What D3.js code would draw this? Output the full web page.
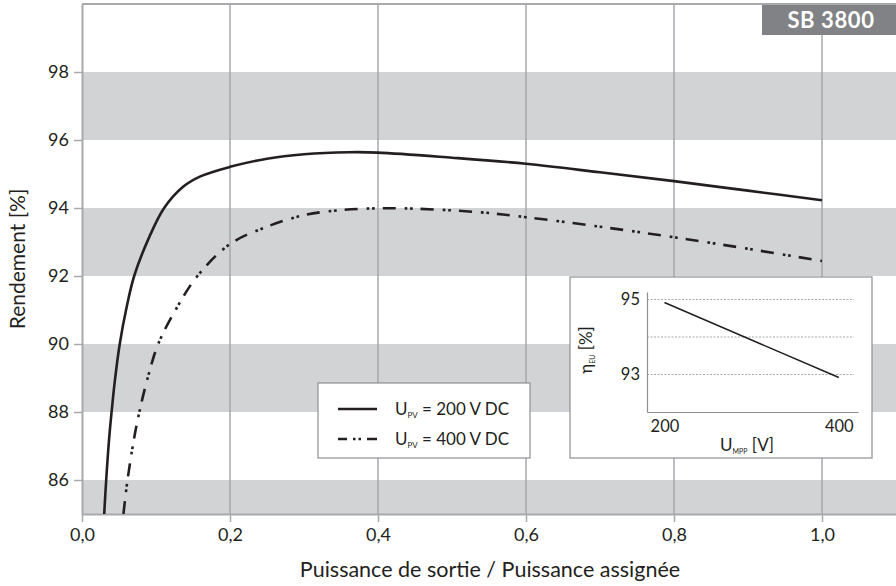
<!DOCTYPE html>
<html>
<head>
<meta charset="utf-8">
<script src="https://cdn.jsdelivr.net/npm/d3@7/dist/d3.min.js"></script>
<style>
  html, body { margin: 0; padding: 0; background: #ffffff; }
  svg { display: block; font-family: Lato, "Noto Sans", sans-serif; }
</style>
</head>
<body>
<svg id="chart" width="896" height="586"></svg>
<script>
// ---------- data ----------
const xTicks = [0, 0.2, 0.4, 0.6, 0.8, 1.0];
const yTicks = [86, 88, 90, 92, 94, 96, 98];
const bands = [[84, 86], [88, 90], [92, 94], [96, 98]];

const series200 = [
  [0.030, 85.0], [0.0327, 86.0], [0.0366, 87.2], [0.040, 88.0], [0.0443, 88.9],
  [0.051, 90.0], [0.0605, 91.1], [0.0705, 92.0], [0.091, 93.15], [0.111, 94.0],
  [0.137, 94.63], [0.16, 94.93], [0.2, 95.21], [0.25, 95.45], [0.3, 95.58],
  [0.36, 95.64], [0.4, 95.63], [0.5, 95.48], [0.6, 95.30], [0.7, 95.05],
  [0.8, 94.79], [0.9, 94.51], [1.0, 94.23]
];
const series400 = [
  [0.056, 85.0], [0.0615, 86.0], [0.0702, 87.2], [0.0775, 88.0], [0.088, 88.94],
  [0.103, 90.0], [0.129, 91.1], [0.156, 92.0], [0.2, 92.94], [0.25, 93.45],
  [0.3, 93.79], [0.35, 93.94], [0.4, 93.99], [0.45, 93.98], [0.54, 93.87],
  [0.6, 93.73], [0.7, 93.45], [0.8, 93.14], [0.9, 92.8], [1.0, 92.44]
];
const seriesLabels = ["200 V DC", "400 V DC"];

const insetX = [200, 400];
const insetEta = [94.92, 92.92];
const insetYTicks = [93, 95];
const insetGrid = [93, 94, 95];
const insetXTicks = [200, 400];

const modelName = "SB 3800";

// ---------- styles ----------
const ink = "#231f20";
const gridCol = "#a7a9ac";
const bandCol = "#d1d3d4";
const frameCol = "#8d8f92";
const dashPattern = "13,9,2.7,2.7,2.7,8";

const svg = d3.select("#chart");

const x = d3.scaleLinear().domain([0, 1.1]).range([82, 896]);
const y = d3.scaleLinear().domain([85, 100]).range([514, 4]);

// bands
svg.append("g").selectAll("rect").data(bands).join("rect")
  .attr("x", x(0))
  .attr("width", x(1.1) - x(0))
  .attr("y", d => y(d[1]))
  .attr("height", d => y(Math.max(d[0], 85)) - y(d[1]))
  .attr("fill", bandCol);

// vertical gridlines
svg.append("g").selectAll("line").data(xTicks.filter(d => d > 0)).join("line")
  .attr("x1", d => x(d)).attr("x2", d => x(d))
  .attr("y1", y(100)).attr("y2", y(85))
  .attr("stroke", gridCol).attr("stroke-width", 1.5);

// top frame
svg.append("line")
  .attr("x1", x(0)).attr("x2", x(1.1))
  .attr("y1", y(100)).attr("y2", y(100))
  .attr("stroke", gridCol).attr("stroke-width", 2);

// axes
const fmtX = d => d3.format(".1f")(d).replace(".", ",");
const xAxis = svg.append("g").attr("transform", `translate(0,${y(85)})`)
  .call(d3.axisBottom(x).tickValues(xTicks).tickFormat(fmtX).tickSize(8).tickSizeOuter(0).tickPadding(6));
const yAxis = svg.append("g").attr("transform", `translate(${x(0)},0)`)
  .call(d3.axisLeft(y).tickValues(yTicks).tickFormat(d => d).tickSize(8).tickSizeOuter(0).tickPadding(5));
[xAxis, yAxis].forEach(g => {
  g.select(".domain").attr("stroke", gridCol).attr("stroke-width", 2);
  g.selectAll(".tick line").attr("stroke", gridCol).attr("stroke-width", 1.5);
  g.selectAll(".tick text").attr("fill", ink).attr("font-size", 18).attr("font-family", "Lato");
});

// axis titles
svg.append("text")
  .attr("x", 490).attr("y", 577)
  .attr("text-anchor", "middle")
  .attr("font-size", 21.5).attr("fill", ink)
  .text("Puissance de sortie / Puissance assignée");
svg.append("text")
  .attr("transform", `translate(25,${(y(85) + y(100)) / 2}) rotate(-90)`)
  .attr("text-anchor", "middle")
  .attr("font-size", 21).attr("fill", ink)
  .text("Rendement [%]");

// curves
svg.append("defs").append("clipPath").attr("id", "plotclip")
  .append("rect").attr("x", x(0)).attr("y", y(100))
  .attr("width", x(1.1) - x(0)).attr("height", y(85) - y(100));

const line = d3.line().x(d => x(d[0])).y(d => y(d[1])).curve(d3.curveCatmullRom.alpha(0.5));
const curves = svg.append("g").attr("clip-path", "url(#plotclip)");
curves.append("path").datum(series200)
  .attr("d", line).attr("fill", "none")
  .attr("stroke", ink).attr("stroke-width", 2.6);
curves.append("path").datum(series400)
  .attr("d", line).attr("fill", "none")
  .attr("stroke", ink).attr("stroke-width", 2.6)
  .attr("stroke-dasharray", dashPattern);

// legend
const lg = svg.append("g");
lg.append("rect").attr("x", 318).attr("y", 383).attr("width", 212).attr("height", 75)
  .attr("fill", "#fff").attr("stroke", frameCol).attr("stroke-width", 1.2);
const lgItems = [
  { label: seriesLabels[0], dash: null },
  { label: seriesLabels[1], dash: "9,6,2.5,3,2.5,6,12" }
];
lgItems.forEach((it, i) => {
  const yy = 409 + i * 30;
  lg.append("line").attr("x1", 338).attr("x2", 377).attr("y1", yy).attr("y2", yy)
    .attr("stroke", ink).attr("stroke-width", 2.6)
    .attr("stroke-dasharray", it.dash);
  const t = lg.append("text").attr("x", 395).attr("y", yy + 6)
    .attr("font-size", 17).attr("fill", ink);
  t.append("tspan").text("U");
  t.append("tspan").attr("font-size", 8).attr("dy", 3).text("PV");
  t.append("tspan").attr("dy", -3).text(" = " + it.label);
});

// inset
const ins = svg.append("g");
ins.append("rect").attr("x", 570).attr("y", 277).attr("width", 302).attr("height", 181)
  .attr("fill", "#fff").attr("stroke", frameCol).attr("stroke-width", 1.2);
const ix = d3.scaleLinear().domain([180, 422]).range([647, 858]);
const iy = d3.scaleLinear().domain([92, 95.2]).range([412, 292]);
ins.append("g").selectAll("line").data(insetGrid).join("line")
  .attr("x1", ix(180)).attr("x2", 854)
  .attr("y1", d => iy(d)).attr("y2", d => iy(d))
  .attr("stroke", "#a7a9ac").attr("stroke-width", 1).attr("stroke-dasharray", "2,1.5");
const iyAxis = ins.append("g").attr("transform", `translate(${ix(180)},0)`)
  .call(d3.axisLeft(iy).tickValues(insetYTicks).tickSize(0).tickPadding(7).tickFormat(d => d));
const ixAxis = ins.append("g").attr("transform", `translate(0,${iy(92)})`)
  .call(d3.axisBottom(ix).tickValues(insetXTicks).tickSize(0).tickPadding(8).tickFormat(d => d));
[iyAxis, ixAxis].forEach(g => {
  g.select(".domain").attr("stroke", frameCol).attr("stroke-width", 1.2);
  g.selectAll(".tick text").attr("fill", ink).attr("font-size", 16.5).attr("font-family", "Lato");
});
ins.append("path").datum(insetX.map((v, i) => [v, insetEta[i]]))
  .attr("d", d3.line().x(d => ix(d[0])).y(d => iy(d[1])))
  .attr("fill", "none").attr("stroke", ink).attr("stroke-width", 1.5);
const ixt = ins.append("text").attr("x", 747).attr("y", 451)
  .attr("text-anchor", "middle").attr("font-size", 17).attr("fill", ink);
ixt.append("tspan").text("U");
ixt.append("tspan").attr("font-size", 7).attr("dy", 3).text("MPP");
ixt.append("tspan").attr("dy", -3).text(" [V]");
const iyt = ins.append("text")
  .attr("transform", `translate(592,350) rotate(-90)`)
  .attr("text-anchor", "middle").attr("font-size", 17).attr("fill", ink);
iyt.append("tspan").text("η");
iyt.append("tspan").attr("font-size", 7).attr("dy", 3).text("EU");
iyt.append("tspan").attr("dy", -3).text(" [%]");

// model badge
svg.append("rect").attr("x", 762).attr("y", 5).attr("width", 134).attr("height", 30)
  .attr("fill", "#808285");
svg.append("text").attr("x", 831).attr("y", 28)
  .attr("text-anchor", "middle").attr("font-size", 22).attr("font-weight", 700)
  .attr("letter-spacing", 0.6)
  .attr("fill", "#fff").text(modelName);
</script>
</body>
</html>
